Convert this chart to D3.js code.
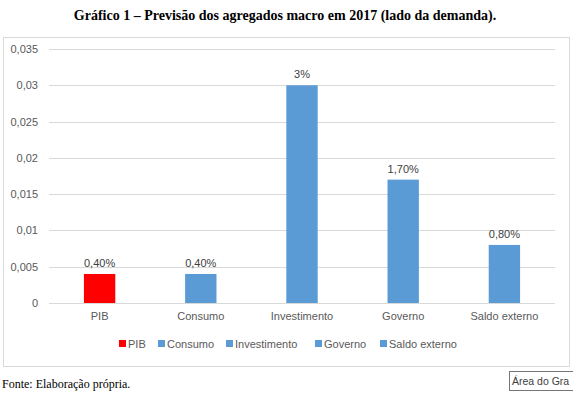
<!DOCTYPE html>
<html><head><meta charset="utf-8">
<script src="https://cdn.jsdelivr.net/npm/d3@7"></script>
<style>body{margin:0;background:#fff;overflow:hidden}</style>
</head><body>
<script>
const categories = ["PIB","Consumo","Investimento","Governo","Saldo externo"];
const values = [0.004,0.004,0.03,0.017,0.008];
const valueLabels = ["0,40%","0,40%","3%","1,70%","0,80%"];
const colors = ["#ff0000","#5b9bd5","#5b9bd5","#5b9bd5","#5b9bd5"];
const yTicks = [0,0.005,0.01,0.015,0.02,0.025,0.03,0.035];
const yTickLabels = ["0","0,005","0,01","0,015","0,02","0,025","0,03","0,035"];

const W=573,H=395;
const svg=d3.select("body").append("svg").attr("width",W).attr("height",H);
const font="'Liberation Sans', Arial, sans-serif";
svg.append("text").attr("x",285).attr("y",20).attr("text-anchor","middle")
  .attr("font-family","'Liberation Serif', 'Times New Roman', serif").attr("font-weight","bold").attr("font-size",14)
  .text("Gráfico 1 – Previsão dos agregados macro em 2017 (lado da demanda).");
svg.append("rect").attr("x",3.5).attr("y",37.5).attr("width",566).attr("height",329).attr("fill","#fff").attr("stroke","#d9d9d9");

const x=d3.scaleBand().domain(categories).range([49,555]).paddingInner(0.69).paddingOuter(0.345);
const y=d3.scaleLinear().domain([0,0.035]).range([303,49]);

const g=svg.append("g");
g.selectAll("line.grid").data(yTicks).join("line").attr("x1",49).attr("x2",555)
  .attr("y1",d=>Math.round(y(d))+0.5).attr("y2",d=>Math.round(y(d))+0.5).attr("stroke","#d9d9d9");
const yAxis=d3.axisLeft(y).tickValues(yTicks).tickFormat((d,i)=>yTickLabels[i]).tickSize(0).tickPadding(0);
const ya=svg.append("g").attr("transform","translate(38,0)").call(yAxis);
ya.select(".domain").remove();
ya.selectAll("text").attr("font-family",font).attr("font-size",11).attr("fill","#595959");

g.selectAll("rect.bar").data(values).join("rect").attr("x",(d,i)=>x(categories[i])).attr("width",x.bandwidth())
  .attr("y",d=>y(d)).attr("height",d=>y(0)-y(d)).attr("fill",(d,i)=>colors[i]);
g.selectAll("text.lbl").data(values).join("text").attr("x",(d,i)=>x(categories[i])+x.bandwidth()/2)
  .attr("y",d=>y(d)-7).attr("text-anchor","middle").attr("font-family",font).attr("font-size",11).attr("fill","#404040")
  .text((d,i)=>valueLabels[i]);

const xAxis=d3.axisBottom(x).tickSize(0).tickPadding(0);
const xa=svg.append("g").attr("transform","translate(0,312)").call(xAxis);
xa.select(".domain").remove();
xa.selectAll("text").attr("font-family",font).attr("font-size",11).attr("fill","#595959");

const legendX=[119,158,226,315,380];
const lg=svg.append("g");
categories.forEach((c,i)=>{
  lg.append("rect").attr("x",legendX[i]).attr("y",340).attr("width",7).attr("height",7).attr("fill",colors[i]);
  lg.append("text").attr("x",legendX[i]+9).attr("y",348).attr("font-family",font).attr("font-size",11).attr("fill","#595959").text(c);
});

svg.append("text").attr("x",2).attr("y",388).attr("font-family","'Liberation Serif', 'Times New Roman', serif").attr("font-size",12).text("Fonte: Elaboração própria.");
svg.append("rect").attr("x",509.5).attr("y",371.5).attr("width",90).attr("height",19).attr("fill","#fff").attr("stroke","#767676");
svg.append("text").attr("x",512).attr("y",385).attr("font-family",font).attr("font-size",10.5).attr("fill","#404040").text("Área do Gra");
</script>
</body></html>
